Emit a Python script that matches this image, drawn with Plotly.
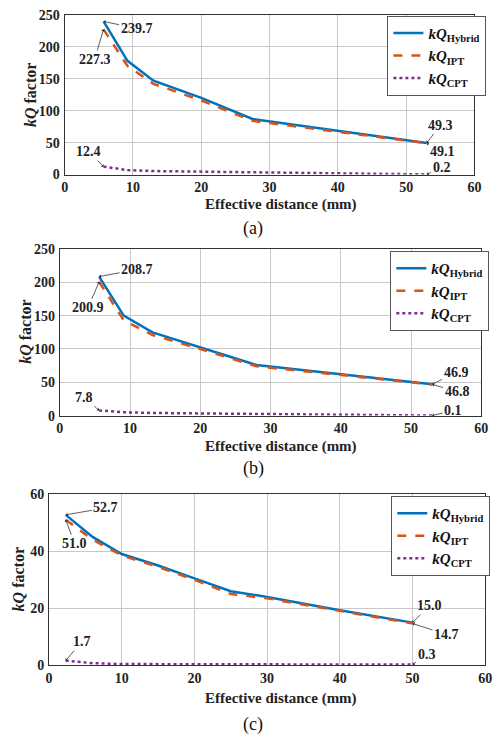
import plotly.graph_objects as go

# ---------------- data ----------------
# (a)
xa = [5.7, 9.2, 13.0, 20.0, 27.5, 53.0]
hyb_a = [239.7, 178, 147, 120, 87, 49.3]
ipt_a = [227.3, 170, 142, 116, 84, 49.1]
cpt_a = [12.4, 7.0, 5.5, 4.5, 3.0, 0.2]
# (b)
xb = [5.6, 9.1, 13.2, 20.0, 28.0, 53.0]
hyb_b = [208.7, 150, 125, 103, 76, 46.9]
ipt_b = [200.9, 143, 121, 100, 74, 46.8]
cpt_b = [7.8, 5.0, 4.0, 3.5, 2.5, 0.1]
# (c)
xc = [2.3, 6.0, 10.0, 15.0, 20.0, 25.0, 30.0, 40.0, 50.0]
hyb_c = [52.7, 45.0, 39.0, 35.0, 30.5, 26.0, 24.0, 19.3, 15.0]
ipt_c = [51.0, 44.0, 38.5, 34.5, 30.0, 25.0, 23.5, 19.0, 14.7]
cpt_c = [1.7, 0.8, 0.5, 0.45, 0.4, 0.4, 0.35, 0.3, 0.3]

names = ["<b><i>kQ</i><sub>Hybrid</sub></b>", "<b><i>kQ</i><sub>IPT</sub></b>", "<b><i>kQ</i><sub>CPT</sub></b>"]
colors = ["#0072BD", "#D95319", "#7E2F8E"]
dashes = ["solid", "dash", "dot"]

FONT = "Liberation Serif"
W, H = 501, 746

fig = go.Figure()

panels = [
    dict(x=xa, ys=[hyb_a, ipt_a, cpt_a], ax="x", ay="y", leg="legend",
         px=(62, 481), py=(8, 171), ymax=250, dtick=50,
         ann=[(0, 0, "239.7", 33, 7), (1, 0, "227.3", -9, 30), (2, 0, "12.4", -15, -15),
              (0, -1, "49.3", 14, -18), (1, -1, "49.1", 16, 8), (2, -1, "0.2", 15, -7)],
         ytitle_x=27, xtitle_y=202, cap="(a)", cap_y=226, legbox=(392, 9)),
    dict(x=xb, ys=[hyb_b, ipt_b, cpt_b], ax="x2", ay="y2", leg="legend2",
         px=(57, 488), py=(247, 417), ymax=250, dtick=50,
         ann=[(0, 0, "208.7", 38, -7), (1, 0, "200.9", -11, 26), (2, 0, "7.8", -15, -13),
              (0, -1, "46.9", 24, -12), (1, -1, "46.8", 25, 7), (2, -1, "0.1", 21, -5)],
         ytitle_x=22, xtitle_y=449, cap="(b)", cap_y=471, legbox=(395, 249)),
    dict(x=xc, ys=[hyb_c, ipt_c, cpt_c], ax="x3", ay="y3", leg="legend3",
         px=(46, 492), py=(497, 672), ymax=60, dtick=20,
         ann=[(0, 0, "52.7", 40, -7), (1, 0, "51.0", 9, 24), (2, 0, "1.7", 16, -19),
              (0, -1, "15.0", 17, -17), (1, -1, "14.7", 34, 11), (2, -1, "0.3", 14, -10)],
         ytitle_x=15, xtitle_y=706, cap="(c)", cap_y=732, legbox=(396, 499)),
]

annotations = []
layout_axes = {}
for i, p in enumerate(panels):
    for j in range(3):
        fig.add_trace(go.Scatter(
            x=p["x"], y=p["ys"][j], mode="lines", name=names[j],
            line=dict(color=colors[j], width=2.5, dash=dashes[j]),
            xaxis=p["ax"], yaxis=p["ay"], legend=p["leg"], showlegend=True))
    suffix = "" if i == 0 else str(i + 1)
    xd = [p["px"][0] / W, p["px"][1] / W]
    yd = [1 - p["py"][1] / H, 1 - p["py"][0] / H]
    common = dict(showgrid=True, gridcolor="#c8c8c8", gridwidth=1,
                  showline=True, linecolor="#333333", linewidth=1, mirror=True,
                  ticks="", zeroline=False,
                  tickfont=dict(family=FONT, size=14, color="#222222", weight="bold"))
    layout_axes["xaxis" + suffix] = dict(domain=xd, range=[0, 60], dtick=10, tick0=0,
                                         anchor="y" + suffix, ticklabelstandoff=0, **common)
    layout_axes["yaxis" + suffix] = dict(domain=yd, range=[0, p["ymax"]], dtick=p["dtick"],
                                         anchor="x" + suffix, ticklabelstandoff=1, **common)
    # legend
    lx, ly = p["legbox"]
    layout_axes[p["leg"]] = dict(x=lx / W, y=1 - ly / H, xanchor="left", yanchor="top",
                                 bgcolor="white", bordercolor="#555555", borderwidth=1,
                                 font=dict(family=FONT, size=15, color="#111111"),
                                 tracegroupgap=0, itemwidth=30)
    # data annotations
    for (s, idx, txt, dx, dy) in p["ann"]:
        annotations.append(dict(
            x=p["x"][idx], y=p["ys"][s][idx], xref=p["ax"], yref=p["ay"],
            text="<b>" + txt + "</b>", showarrow=True, ax=dx, ay=dy,
            arrowhead=1, arrowsize=0.8, arrowwidth=0.8, arrowcolor="#333333",
            font=dict(family=FONT, size=14, color="#222222")))
    # axis titles & caption
    annotations.append(dict(x=p["ytitle_x"] / W, y=1 - (p["py"][0] + p["py"][1]) / 2 / H,
                            xref="paper", yref="paper", showarrow=False, textangle=-90,
                            xanchor="center", yanchor="middle",
                            text="<b><i>kQ</i> factor</b>",
                            font=dict(family=FONT, size=16, color="#222222")))
    annotations.append(dict(x=283 / W, y=1 - p["xtitle_y"] / H, xref="paper", yref="paper",
                            showarrow=False, text="<b>Effective distance (mm)</b>",
                            xanchor="center", yanchor="middle",
                            font=dict(family=FONT, size=15, color="#222222")))
    annotations.append(dict(x=255 / W, y=1 - p["cap_y"] / H, xref="paper", yref="paper",
                            showarrow=False, text=p["cap"],
                            xanchor="center", yanchor="middle",
                            font=dict(family=FONT, size=18, color="#111111")))

fig.update_layout(
    width=W, height=H, margin=dict(l=0, r=0, t=0, b=0),
    paper_bgcolor="white", plot_bgcolor="white",
    annotations=annotations, **layout_axes)

fig.write_html("out.html")
